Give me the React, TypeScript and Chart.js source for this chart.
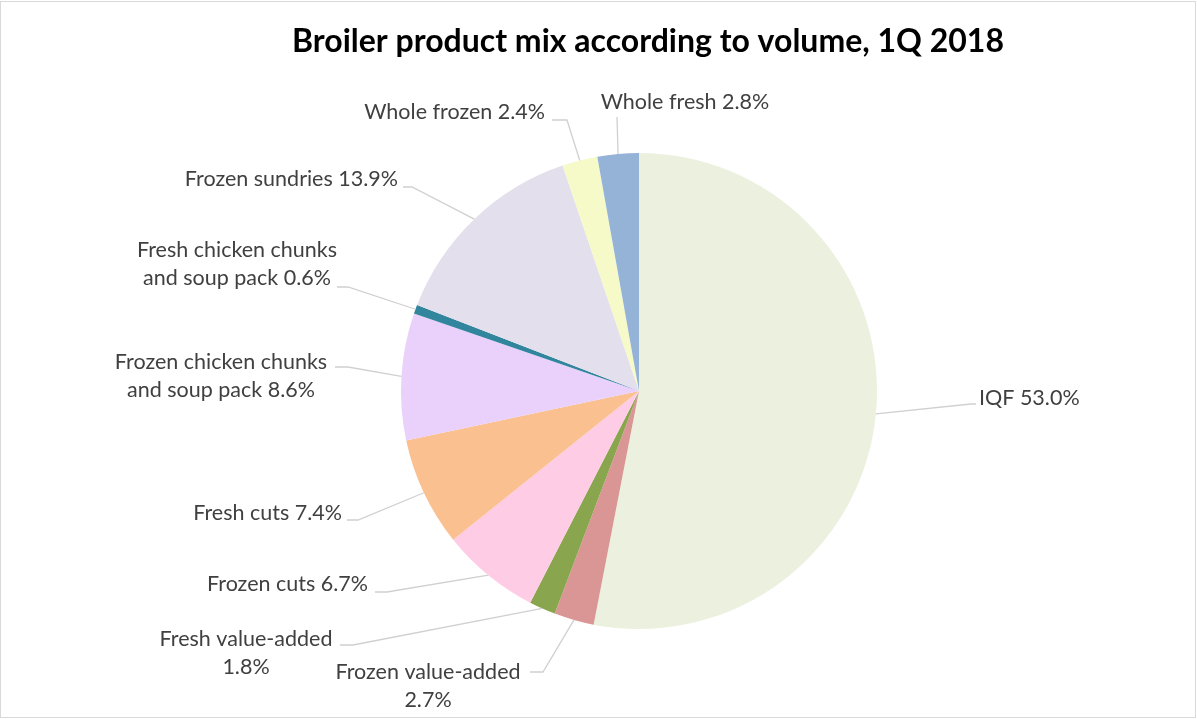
import React, { useEffect, useRef } from "react";
import { Chart, registerables } from "chart.js";

Chart.register(...registerables);

const categories = [
  "IQF",
  "Frozen value-added",
  "Fresh value-added",
  "Frozen cuts",
  "Fresh cuts",
  "Frozen chicken chunks and soup pack",
  "Fresh chicken chunks and soup pack",
  "Frozen sundries",
  "Whole frozen",
  "Whole fresh",
];
const shares = [53.0, 2.7, 1.8, 6.7, 7.4, 8.6, 0.6, 13.9, 2.4, 2.8];
const labelLines = [
  ["IQF 53.0%"],
  ["Frozen value-added", "2.7%"],
  ["Fresh value-added", "1.8%"],
  ["Frozen cuts 6.7%"],
  ["Fresh cuts 7.4%"],
  ["Frozen chicken chunks", "and soup pack 8.6%"],
  ["Fresh chicken chunks", "and soup pack 0.6%"],
  ["Frozen sundries 13.9%"],
  ["Whole frozen 2.4%"],
  ["Whole fresh 2.8%"],
];
const colors = [
  "#EBF1DE",
  "#D99694",
  "#89A54E",
  "#FFCCE6",
  "#FAC090",
  "#E9D1FB",
  "#31859C",
  "#E4DFEC",
  "#F5FAC8",
  "#95B3D7",
];
const title = "Broiler product mix according to volume, 1Q 2018";

// label layout relative to pie centre: text anchor, alignment, leader elbow and end
const labelLayout = [
  { tx: 340, ty: 7, align: "left", ex: 332, ey: 13, hx: 337, hy: 13 },
  { tx: -211, ty: 281, align: "center", ex: -96, ey: 281, hx: -109, hy: 281 },
  { tx: -393, ty: 248, align: "center", ex: -286, ey: 254, hx: -299, hy: 254 },
  { tx: -271, ty: 193, align: "right", ex: -252, ey: 201, hx: -264, hy: 201 },
  { tx: -297, ty: 122, align: "right", ex: -281, ey: 129, hx: -292, hy: 129 },
  { tx: -418, ty: -29, align: "center", ex: -291, ey: -24, hx: -304, hy: -24 },
  { tx: -402, ty: -141, align: "center", ex: -291, ey: -104, hx: -302, hy: -104 },
  { tx: -241, ty: -212, align: "right", ex: -227, ey: -204, hx: -236, hy: -204 },
  { tx: -94, ty: -279, align: "right", ex: -72, ey: -271, hx: -87, hy: -271 },
  { tx: 46, ty: -289, align: "center", ex: -22, ey: -274, hx: -22, hy: -274 },
];

const LABEL_FONT = '21.5px Lato, "Open Sans", sans-serif';
const LINE_H = 28.5;

const decorPlugin = {
  id: "decor",
  beforeDraw(chart: any) {
    const { ctx, width, height } = chart;
    ctx.save();
    ctx.fillStyle = "#FFFFFF";
    ctx.fillRect(0, 0, width, height);
    ctx.strokeStyle = "#D9D9D9";
    ctx.lineWidth = 1;
    ctx.strokeRect(0.5, 1.5, width - 2, height - 3);
    ctx.fillStyle = "#000000";
    ctx.font = 'bold 32px Lato, "Open Sans", sans-serif';
    ctx.textAlign = "center";
    ctx.textBaseline = "middle";
    ctx.fillText(title, 648, 42);
    ctx.restore();
  },
  afterDraw(chart: any) {
    const { ctx } = chart;
    const meta = chart.getDatasetMeta(0);
    ctx.save();
    meta.data.forEach((arc: any, i: number) => {
      const p = arc.getProps(["x", "y", "startAngle", "endAngle", "outerRadius"], true);
      const mid = (p.startAngle + p.endAngle) / 2;
      const sx = p.x + Math.cos(mid) * p.outerRadius;
      const sy = p.y + Math.sin(mid) * p.outerRadius;
      const L = labelLayout[i];
      ctx.strokeStyle = "#D0D0D0";
      ctx.lineWidth = 1.3;
      ctx.beginPath();
      ctx.moveTo(sx, sy);
      ctx.lineTo(p.x + L.ex, p.y + L.ey);
      ctx.lineTo(p.x + L.hx, p.y + L.hy);
      ctx.stroke();
      ctx.fillStyle = "#404040";
      ctx.font = LABEL_FONT;
      ctx.textAlign = L.align;
      ctx.textBaseline = "middle";
      labelLines[i].forEach((line, j) => {
        ctx.fillText(line, p.x + L.tx, p.y + L.ty + j * LINE_H);
      });
    });
    ctx.restore();
  },
};

export default function App() {
  const ref = useRef<HTMLCanvasElement>(null);
  useEffect(() => {
    document.body.style.margin = "0";
    const chart = new Chart(ref.current as HTMLCanvasElement, {
      type: "pie",
      data: {
        labels: categories,
        datasets: [
          {
            data: shares,
            backgroundColor: colors,
            borderWidth: 0,
          },
        ],
      },
      options: {
        animation: false,
        responsive: false,
        rotation: 0,
        layout: { padding: { top: 153, bottom: 90, left: 401, right: 320 } },
        plugins: {
          legend: { display: false },
          title: { display: false },
          tooltip: { enabled: false },
        },
      },
      plugins: [decorPlugin],
    });
    return () => chart.destroy();
  }, []);
  return (
    <div style={{ width: 1197, height: 719 }}>
      <canvas ref={ref} width={1197} height={719} />
    </div>
  );
}
